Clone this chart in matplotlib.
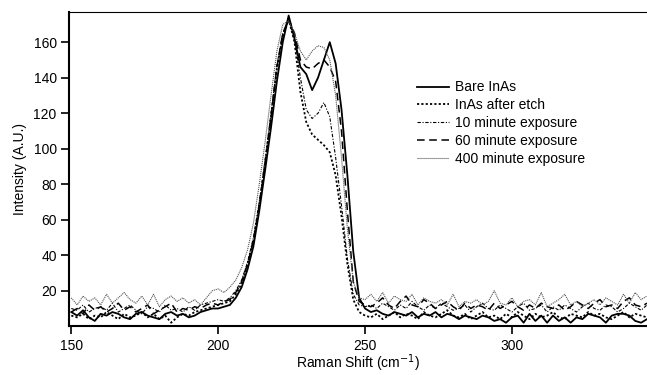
import numpy as np
import matplotlib
matplotlib.use('Agg')
import matplotlib.pyplot as plt

plt.rcParams['font.family'] = ['Liberation Sans', 'DejaVu Sans']
plt.rcParams['font.size'] = 10

# Raman shift grid (cm^-1), every 2 cm^-1
shift = np.arange(150, 348, 2)

bare = [8, 6, 9, 5, 3, 7, 6, 8, 7, 5, 4, 7, 8, 6, 5, 4, 7, 8, 6, 7, 5, 6, 8, 9, 10,
        10, 11, 12, 16, 22, 32, 45, 65, 88, 112, 138, 160, 175, 162, 146, 142, 133, 140, 150, 160,
        148, 122, 85, 42, 16, 10,
        8, 9, 7, 6, 8, 7, 6, 8, 5, 7, 6, 8, 5, 7, 6, 4, 6, 5, 4, 6, 5, 3, 4, 2, 5, 6, 2, 7, 3, 6,
        2, 6, 3, 5, 2, 5, 4, 7, 6, 5, 2, 6, 7, 7, 6, 3, 2, 4]

etch = [6, 5, 7, 4, 6, 5, 8, 6, 4, 7, 5, 6, 8, 5, 7, 4, 6, 2, 5, 7, 6, 8, 9, 10, 11,
        12, 13, 14, 18, 24, 35, 48, 68, 92, 118, 145, 163, 173, 160, 132, 115, 108, 105, 102, 98,
        85, 62, 35, 15, 8, 6,
        5, 7, 4, 6, 8, 5, 7, 6, 4, 8, 6, 5, 7, 9, 6, 5, 7, 4, 6, 8, 5, 6, 4, 7, 5, 8, 6, 4, 7, 5,
        6, 8, 5, 4, 7, 6, 5, 8, 6, 7, 5, 4, 6, 8, 5, 7, 6, 5]

min10 = [10, 9, 12, 8, 10, 11, 9, 13, 8, 10, 12, 9, 7, 11, 10, 8, 12, 9, 10, 8, 11, 9, 12, 13, 14,
         15, 14, 16, 20, 26, 36, 50, 70, 94, 120, 147, 165, 172, 162, 140, 122, 117, 120, 126, 118,
         95, 68, 38, 18, 12, 11,
         12, 10, 13, 11, 9, 12, 10, 14, 11, 9, 12, 10, 13, 11, 9, 10, 12, 8, 11, 13, 10, 9, 12, 10, 8,
         11, 13, 9, 10, 12, 8, 11, 9, 12, 10, 8, 11, 13, 10, 9, 12, 11, 8, 10, 13, 11, 9, 12]

min60 = [8, 10, 7, 12, 9, 11, 8, 10, 13, 9, 11, 8, 10, 12, 7, 9, 11, 13, 8, 10, 9, 11, 10, 12, 13,
         12, 14, 15, 19, 25, 35, 48, 68, 92, 118, 146, 165, 173, 165, 150, 146, 145, 148, 150, 146,
         138, 110, 65, 25, 14, 12,
         11, 13, 16, 12, 10, 14, 17, 12, 11, 15, 13, 10, 12, 14, 11, 9, 13, 10, 12, 11, 9, 13, 10, 12, 14,
         11, 9, 12, 10, 13, 11, 10, 12, 9, 11, 14, 12, 10, 13, 15, 11, 12, 10, 14, 16, 12, 11, 13]

min400 = [16, 12, 17, 14, 16, 12, 18, 13, 16, 19, 15, 13, 17, 12, 18, 11, 15, 17, 14, 16, 13, 15, 12, 16, 20,
          21, 19, 22, 26, 33, 43, 58, 80, 104, 130, 155, 170, 172, 165, 155, 150, 155, 158, 157, 150,
          130, 95, 55, 25, 16, 15,
          18, 14, 19, 13, 17, 15, 14, 18, 12, 16, 14, 13, 15, 12, 18, 11, 14, 13, 15, 12, 14, 20, 13, 12, 16,
          11, 14, 15, 12, 19, 11, 13, 15, 18, 12, 14, 11, 13, 15, 12, 16, 14, 12, 18, 13, 19, 15, 17]

fig = plt.figure(figsize=(6.47, 3.75), dpi=100)
ax = fig.add_axes([0.107, 0.13, 0.893, 0.838])

ax.plot(shift, bare, color='black', lw=1.3, ls='-', label='Bare InAs')
ax.plot(shift, etch, color='black', lw=1.3, ls=(0, (1.2, 1.2)), label='InAs after etch')
ax.plot(shift, min10, color='black', lw=0.8, ls=(0, (3, 1.5, 1, 1.5)), label='10 minute exposure')
ax.plot(shift, min60, color='black', lw=1.1, ls=(0, (5, 3)), label='60 minute exposure')
ax.plot(shift, min400, color='#555555', lw=0.8, ls=(0, (1, 0.8)), label='400 minute exposure')

ax.set_xlim(149.3, 346)
ax.set_ylim(0, 177)
ax.set_xticks([150, 200, 250, 300])
ax.set_yticks([20, 40, 60, 80, 100, 120, 140, 160])
ax.tick_params(direction='out', length=6, width=1.2, pad=3)

ax.spines['right'].set_visible(False)
ax.spines['top'].set_linewidth(0.8)
ax.spines['left'].set_linewidth(1.5)
ax.spines['bottom'].set_linewidth(1.5)

ax.set_xlabel('Raman Shift (cm$^{-1}$)', labelpad=0)
ax.set_ylabel('Intensity (A.U.)', labelpad=5)

ax.legend(loc='upper left', bbox_to_anchor=(0.593, 0.8), frameon=False,
          handlelength=2.3, handletextpad=0.4, labelspacing=0.28, borderaxespad=0)

fig.savefig('out.png', dpi=100)
